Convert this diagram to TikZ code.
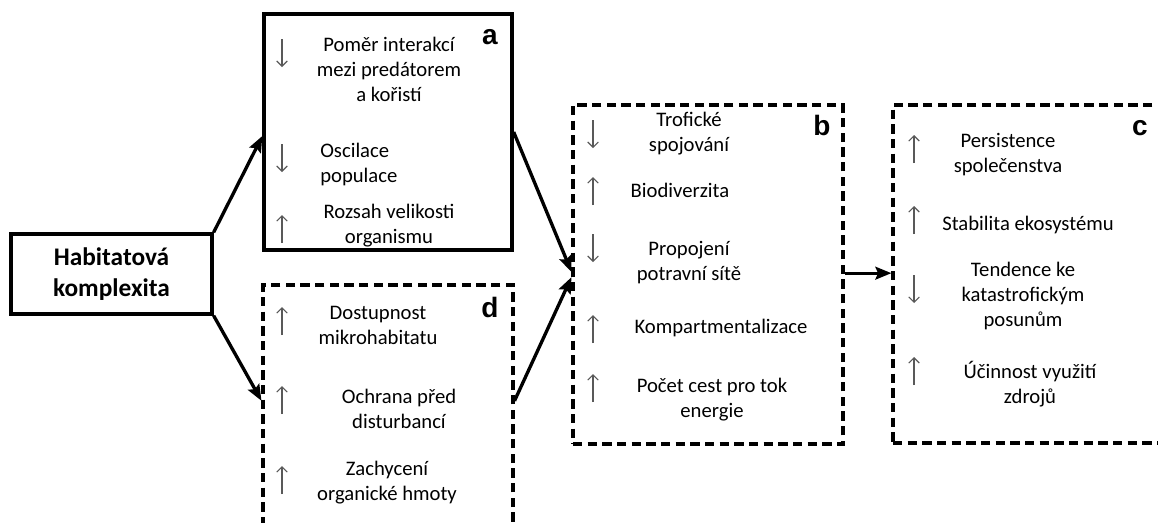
\documentclass[tikz,border=0pt]{standalone}
\usepackage{fontspec}
\setmainfont{Carlito}
\newfontfamily\tagfont{Liberation Sans}
\usetikzlibrary{arrows.meta}
\usetikzlibrary{positioning}
\tikzset{flow/.style = {line width=2.5pt, -{Stealth[length=12pt, width=9.5pt, inset=2pt]}}}
\tikzset{solidbox/.style = {draw, line width=2.5pt, inner sep=0}}
\tikzset{dashbox/.style = {draw, line width=2.3pt, dash pattern=on 7pt off 4pt, inner sep=0}}
\tikzset{item/.style = {align=center, inner sep=0, font=\fontsize{15.5}{18.75}\selectfont}}
\tikzset{tag/.style = {inner sep=0, font=\tagfont\bfseries\fontsize{21}{21}\selectfont}}
\tikzset{trend/.style = {line width=0.8pt, black!65, -{Straight Barb[length=4pt, width=8pt]}}}

\begin{document}
\begin{tikzpicture}[x=0.75pt, y=-0.75pt]
    \useasboundingbox (0,0) rectangle (1158,522);
    \clip (0,0) rectangle (1158,522);

    % boxes
    \node [solidbox, align=center, font=\bfseries\fontsize{19}{23}\selectfont,
           minimum width=150.75pt, minimum height=60pt] (hab) at (111.5,274) {Habitatová\\komplexita};
    \node [solidbox, minimum width=186pt, minimum height=177pt] (a) at (388,132) {};
    \node [dashbox, minimum width=187.5pt, minimum height=210pt] (d) at (388,425) {};
    \node [dashbox, minimum width=202.5pt, minimum height=254.25pt] (b) at (708,274.5) {};
    \node [dashbox, minimum width=240pt, minimum height=253.5pt] (c) at (1053,274) {};

    \node [tag] (ta) at (490,37) {a};
    \node [tag] (tb) at (822,125) {b};
    \node [tag] (tc) at (1140,128) {c};
    \node [tag] (td) at (490,307) {d};

    % a
    \node [item] (a1) at (389,69.5) {Poměr interakcí\\mezi predátorem\\a kořistí};
    \node [item, align=left, anchor=west] (a2) at (320,164.5) {Oscilace\\populace};
    \node [item] (a3) at (389,225.5) {Rozsah velikosti\\organismu};
    % d
    \node [item] (d1) at (378,325) {Dostupnost\\mikrohabitatu};
    \node [item] (d2) at (399,409) {Ochrana před\\disturbancí};
    \node [item] (d3) at (387,483) {Zachycení\\organické hmoty};
    % b
    \node [item] (b1) at (689,133.5) {Trofické\\spojování};
    \node [item] (b2) at (680,190) {Biodiverzita};
    \node [item] (b3) at (689,263) {Propojení\\potravní sítě};
    \node [item] (b4) at (721,328) {Kompartmentalizace};
    \node [item] (b5) at (712,399.5) {Počet cest pro tok\\energie};
    % c
    \node [item] (c1) at (1008,155) {Persistence\\společenstva};
    \node [item] (c2) at (1028,225) {Stabilita ekosystému};
    \node [item] (c3) at (1023,296) {Tendence ke\\katastrofickým\\posunům};
    \node [item] (c4) at (1030,384.5) {Účinnost využití\\zdrojů};

    % up and down marks
    \foreach \x/\y in {282/229, 282/321, 282/400, 282/480, 593/191, 593/329, 593/388,
                       914/149, 914/220, 914/371}
        \draw [trend] (\x,\y+14) -- (\x,\y-14);
    \foreach \x/\y in {282/53, 282/158, 593/134, 593/248, 914/289}
        \draw [trend] (\x,\y-14) -- (\x,\y+14);

    % links
    \draw [flow] (hab.north east) -- ([yshift=-3pt]a.west);
    \draw [flow] (hab.south east) -- ([yshift=-88pt]d.north west);
    \draw [flow] (a.east) -- ([yshift=2pt]b.west);
    \draw [flow] ([yshift=-88pt]d.north east) -- ([yshift=-2pt]b.west);
    \draw [flow] ([yshift=1pt]b.east) -- ([yshift=1pt]b.east -| c.west);
\end{tikzpicture}
\end{document}
